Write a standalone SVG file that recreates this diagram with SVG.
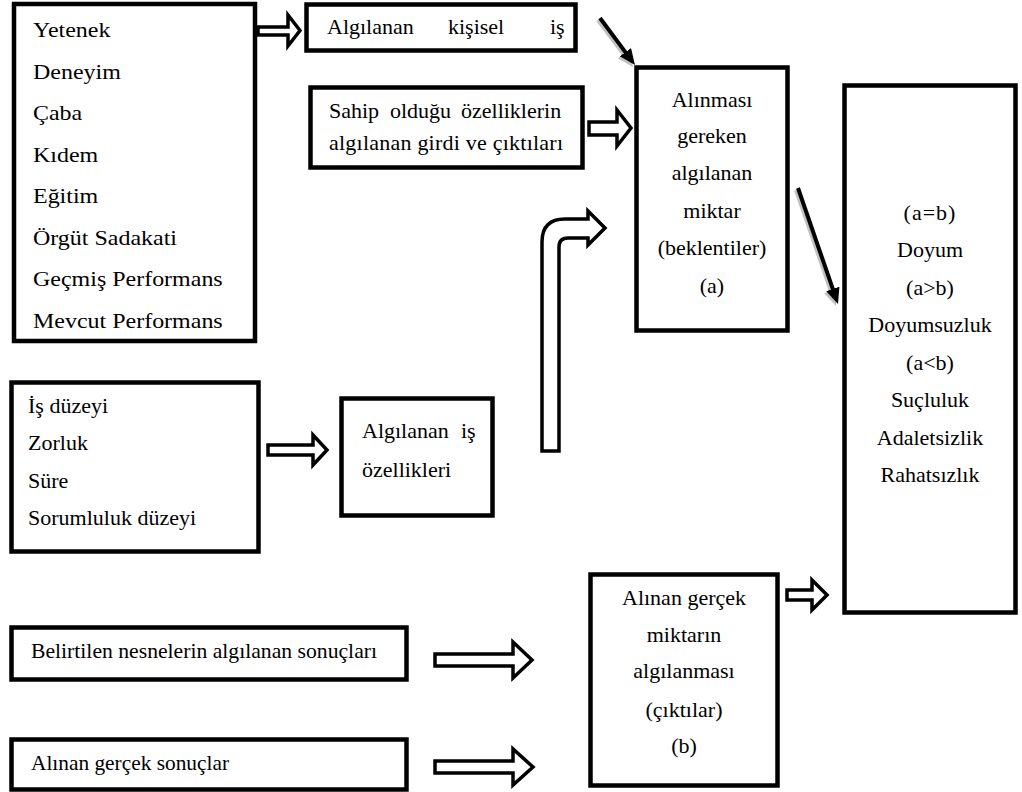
<svg xmlns="http://www.w3.org/2000/svg" width="1022" height="792" viewBox="0 0 1022 792">
<style>
.box{fill:#fff;stroke:#000;stroke-width:4.5}
.t{font-family:'Liberation Serif','Times New Roman',Times,serif;font-size:22px;fill:#000}
.c{text-anchor:middle}
.blk{fill:#fff;stroke:#000;stroke-width:3.5;stroke-linejoin:miter}
.ln{stroke:#000;stroke-width:4;fill:none}
.sh{stroke:#999;stroke-width:4;fill:none;opacity:.6}
</style>
<defs>
<marker id="ah" markerUnits="userSpaceOnUse" markerWidth="18" markerHeight="16" refX="4" refY="7" orient="auto">
<path d="M0,0 L16,7 L0,14 z" fill="#000"/>
</marker>
<marker id="ahs" markerUnits="userSpaceOnUse" markerWidth="18" markerHeight="16" refX="4" refY="7" orient="auto">
<path d="M0,0 L16,7 L0,14 z" fill="#999"/>
</marker>
</defs>
<rect width="1022" height="792" fill="#fff"/>

<g id="connectors">
<polygon class="blk" points="258,27 288,27 288,15 300,30.5 288,46 288,35 258,35"/>
<polygon class="blk" points="589,122 617,122 617,110 631,128 617,146 617,135 589,135"/>
<polygon class="blk" points="268,445 313,445 313,435 327,450 313,465 313,455 268,455"/>
<polygon class="blk" points="435,654 513,654 513,642 532,660 513,678 513,666 435,666"/>
<polygon class="blk" points="435,761 513,761 513,749 533,767 513,785 513,773 435,773"/>
<polygon class="blk" points="787,590 812,590 812,580 827,595 812,610 812,600 787,600"/>
<path class="blk" d="M542,451 L542,242 Q542,219 565,219 L588,219 L588,211 L605,228 L588,245 L588,238 L568,238 Q559,238 559,247 L559,451 Z"/>
<line class="sh" x1="598" y1="20" x2="625.8" y2="57.4" marker-end="url(#ahs)"/>
<line class="ln" x1="600" y1="18" x2="627.8" y2="55.4" marker-end="url(#ah)"/>
<line class="sh" x1="796" y1="190" x2="832.1" y2="294.7" marker-end="url(#ahs)"/>
<line class="ln" x1="798" y1="188" x2="834.1" y2="292.7" marker-end="url(#ah)"/>
</g>

<g id="n-yetenek">
<rect class="box" x="14" y="4" width="241" height="337"/>
<g class="t" transform="translate(33 0) scale(1.09 1)">
<text x="0" y="37">Yetenek</text>
<text x="0" y="79">Deneyim</text>
<text x="0" y="120">Çaba</text>
<text x="0" y="162">Kıdem</text>
<text x="0" y="203">Eğitim</text>
<text x="0" y="245">Örgüt Sadakati</text>
<text x="0" y="286">Geçmiş Performans</text>
<text x="0" y="328">Mevcut Performans</text>
</g>
</g>

<g id="n-kisisel">
<rect class="box" x="306.5" y="4.5" width="269" height="46"/>
<text class="t" y="34"><tspan x="327">Algılanan</tspan><tspan x="448">kişisel</tspan><tspan x="550">iş</tspan></text>
</g>

<g id="n-sahip">
<rect class="box" x="310.5" y="87.5" width="272" height="80"/>
<text class="t" y="118"><tspan x="329">Sahip</tspan><tspan x="390">olduğu</tspan><tspan x="461">özelliklerin</tspan></text>
<text class="t" x="329" y="150" textLength="234">algılanan girdi ve çıktıları</text>
</g>

<g id="n-beklenti">
<rect class="box" x="636.5" y="67.5" width="151" height="263"/>
<text class="t c" x="712" y="107">Alınması</text>
<text class="t c" x="712" y="143">gereken</text>
<text class="t c" x="712" y="180">algılanan</text>
<text class="t c" x="712" y="218">miktar</text>
<text class="t c" x="712" y="255">(beklentiler)</text>
<text class="t c" x="712" y="293">(a)</text>
</g>

<g id="n-sonuc">
<rect class="box" x="844.5" y="85.5" width="171" height="527"/>
<text class="t c" x="930" y="220" letter-spacing="1">(a=b)</text>
<text class="t c" x="930" y="257">Doyum</text>
<text class="t c" x="930" y="295">(a&gt;b)</text>
<text class="t c" x="930" y="332">Doyumsuzluk</text>
<text class="t c" x="930" y="370">(a&lt;b)</text>
<text class="t c" x="930" y="407">Suçluluk</text>
<text class="t c" x="930" y="445">Adaletsizlik</text>
<text class="t c" x="930" y="482">Rahatsızlık</text>
</g>

<g id="n-isduzeyi">
<rect class="box" x="11.5" y="382.5" width="247" height="169"/>
<text class="t" x="28" y="413">İş düzeyi</text>
<text class="t" x="28" y="450">Zorluk</text>
<text class="t" x="28" y="488">Süre</text>
<text class="t" x="28" y="525">Sorumluluk düzeyi</text>
</g>

<g id="n-isozellik">
<rect class="box" x="341.5" y="398.5" width="151" height="117"/>
<text class="t" y="438"><tspan x="362">Algılanan</tspan><tspan x="461">iş</tspan></text>
<text class="t" x="362" y="477">özellikleri</text>
</g>

<g id="n-belirtilen">
<rect class="box" x="11.5" y="627.5" width="395" height="52"/>
<text class="t" x="31" y="658" textLength="346" lengthAdjust="spacingAndGlyphs">Belirtilen nesnelerin algılanan sonuçları</text>
</g>

<g id="n-gercek">
<rect class="box" x="11.5" y="739.5" width="395" height="50"/>
<text class="t" x="31" y="770" textLength="198" lengthAdjust="spacingAndGlyphs">Alınan gerçek sonuçlar</text>
</g>

<g id="n-cikti">
<rect class="box" x="590.5" y="574.5" width="187" height="211"/>
<text class="t c" x="684" y="605">Alınan gerçek</text>
<text class="t c" x="684" y="642">miktarın</text>
<text class="t c" x="684" y="678">algılanması</text>
<text class="t c" x="684" y="717">(çıktılar)</text>
<text class="t c" x="684" y="753">(b)</text>
</g>
</svg>
